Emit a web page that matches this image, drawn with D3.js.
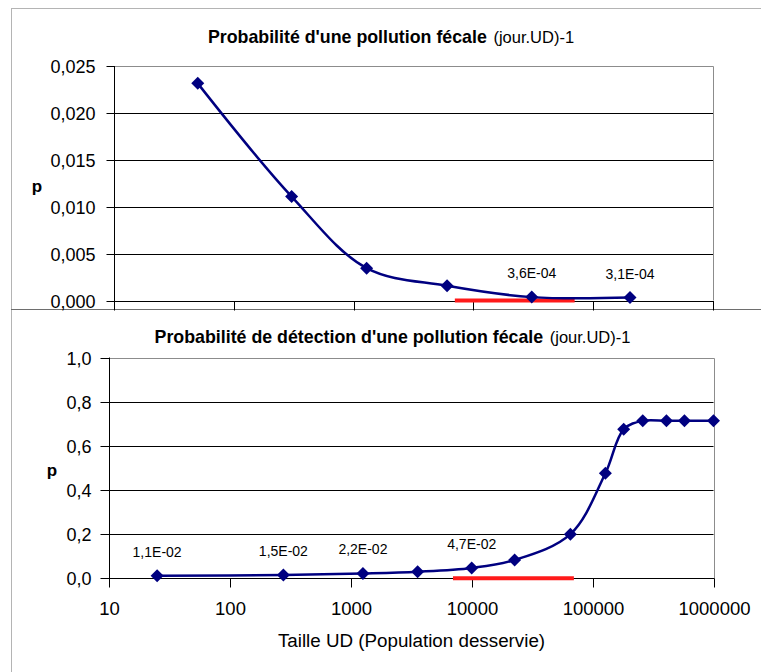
<!DOCTYPE html>
<html>
<head>
<meta charset="utf-8">
<title>probabilites</title>
<script src="https://d3js.org/d3.v7.min.js"></script>
<style>
  body { margin: 0; background: #fff; }
  text { font-family: "Liberation Sans", Arial, sans-serif; }
</style>
</head>
<body>
<script>
// data
var xTicks = [10, 100, 1000, 10000, 100000, 1000000];

var topSize = [50, 304, 1285, 6025, 30700, 202800];
var topP = [0.02315, 0.01108, 0.00345, 0.00157, 0.00036, 0.00031];
var topLabels = ["", "", "", "", "3,6E-04", "3,1E-04"];
var topTicks = [0, 0.005, 0.010, 0.015, 0.020, 0.025];

var botSize = [25, 277, 1260, 3570, 10000, 22650, 65500, 127600, 180800, 260000, 408000, 575000, 1000000];
var botP = [0.011, 0.015, 0.022, 0.030, 0.047, 0.083, 0.200, 0.476, 0.675, 0.713, 0.713, 0.713, 0.713];
var botLabels = ["1,1E-02", "1,5E-02", "2,2E-02", "", "4,7E-02", "", "", "", "", "", "", "", ""];
var botTicks = [0, 0.2, 0.4, 0.6, 0.8, 1.0];

var redRange = [7000, 70000];

var width = 761, height = 672;
var navy = "#000080";

var svg = d3.select("body").append("svg")
    .attr("width", width)
    .attr("height", height);

// chart frames
svg.append("rect")
    .attr("x", 11.5).attr("y", 8.5)
    .attr("width", 800).attr("height", 301)
    .attr("fill", "#fff").attr("stroke", "#b4b4b4");
svg.append("rect")
    .attr("x", 11.5).attr("y", 309.5)
    .attr("width", 800).attr("height", 420)
    .attr("fill", "#fff").attr("stroke", "#b4b4b4");
svg.append("line")
    .attr("x1", 11).attr("x2", width)
    .attr("y1", 309.5).attr("y2", 309.5)
    .attr("stroke", "#6e6e6e");

var diamond = "M0,-6.5L6.5,0L0,6.5L-6.5,0Z";
var comma = function(f){ return function(d){ return d3.format(f)(d).replace(".", ","); }; };

drawPanel({
    left: 114, right: 713, top: 66, bottom: 300.5,
    size: topSize, p: topP, labels: topLabels,
    ticks: topTicks, fmt: comma(".3f"),
    showX: false, ytick: 8, ypad: 11,
    title: "Probabilité d'une pollution fécale", titleX: 391, titleY: 43,
    pX: 37, pY: 192
});

drawPanel({
    left: 109, right: 713.5, top: 357.5, bottom: 578.3,
    size: botSize, p: botP, labels: botLabels,
    ticks: botTicks, fmt: comma(".1f"),
    showX: true, ytick: 9, ypad: 9,
    title: "Probabilité de détection d'une pollution fécale", titleX: 392.5, titleY: 343,
    pX: 52, pY: 476
});

// x axis title
svg.append("text")
    .attr("x", 411.5).attr("y", 647)
    .attr("text-anchor", "middle")
    .attr("font-size", 18.8)
    .attr("fill", "#000")
    .text("Taille UD (Population desservie)");

function drawPanel(c){
    var x = d3.scaleLog().domain([10, 1000000]).range([c.left, c.right]);
    var y = d3.scaleLinear().domain([0, d3.max(c.ticks)]).range([c.bottom, c.top]);
    var g = svg.append("g");

    // gridlines
    g.append("g").selectAll("line")
        .data(c.ticks.slice(1, -1))
        .enter().append("line")
        .attr("x1", c.left).attr("x2", c.right)
        .attr("y1", function(d){ return Math.round(y(d)) + 0.5; })
        .attr("y2", function(d){ return Math.round(y(d)) + 0.5; })
        .attr("stroke", "#000");

    // plot area border (top, right)
    g.append("path")
        .attr("d", "M" + c.left + "," + (Math.round(c.top) + 0.5) + "H" + (Math.round(c.right) + 0.5) + "V" + c.bottom)
        .attr("fill", "none")
        .attr("stroke", "#8c8c8c");

    // y axis
    var ya = g.append("g")
        .attr("transform", "translate(" + (Math.round(c.left) + 0.5) + ",0)")
        .call(d3.axisLeft(y).tickValues(c.ticks).tickSize(c.ytick).tickPadding(c.ypad).tickFormat(c.fmt));
    ya.select(".domain").remove();
    ya.selectAll("line").attr("stroke", "#000");
    ya.selectAll(".tick").attr("transform", function(d){ return "translate(0," + (Math.round(y(d)) + 0.5) + ")"; });
    ya.selectAll("text")
        .attr("font-size", 18)
        .attr("font-family", "Liberation Sans, Arial, sans-serif")
        .attr("fill", "#000")
        .attr("dy", "0.36em");
    g.append("line")
        .attr("x1", Math.round(c.left) + 0.5).attr("x2", Math.round(c.left) + 0.5)
        .attr("y1", c.top).attr("y2", c.bottom + (c.showX ? 0 : 9))
        .attr("stroke", "#000");

    // x axis
    var xa = g.append("g")
        .attr("transform", "translate(0," + (Math.round(c.bottom) + 0.5) + ")")
        .call(d3.axisBottom(x).tickValues(xTicks).tickSize(9).tickPadding(14)
            .tickFormat(c.showX ? d3.format("d") : ""));
    xa.select(".domain").remove();
    xa.selectAll(".tick").attr("transform", function(d){ return "translate(" + (Math.round(x(d)) + 0.5) + ",0)"; });
    xa.selectAll("line").attr("stroke", "#000");
    xa.selectAll("text")
        .attr("font-size", 18.5)
        .attr("font-family", "Liberation Sans, Arial, sans-serif")
        .attr("fill", "#000");
    g.append("line")
        .attr("x1", c.left).attr("x2", c.right + 1)
        .attr("y1", Math.round(c.bottom) + 0.5).attr("y2", Math.round(c.bottom) + 0.5)
        .attr("stroke", "#000");

    // red range
    g.append("line")
        .attr("x1", x(redRange[0])).attr("x2", x(redRange[1]))
        .attr("y1", y(0)).attr("y2", y(0))
        .attr("stroke", "#ff1a1a")
        .attr("stroke-width", 4);

    // smoothed series line
    var pts = c.size.map(function(s, i){ return [x(s), y(c.p[i])]; });
    g.append("path")
        .attr("d", d3.line().curve(d3.curveCatmullRom.alpha(0.5))(pts))
        .attr("fill", "none")
        .attr("stroke", navy)
        .attr("stroke-width", 2.5);

    g.append("g").selectAll("path")
        .data(pts)
        .enter().append("path")
        .attr("transform", function(d){ return "translate(" + d[0] + "," + d[1] + ")"; })
        .attr("d", diamond)
        .attr("fill", navy);

    // data labels
    g.append("g").selectAll("text")
        .data(pts.filter(function(d, i){ return c.labels[i]; }))
        .enter().append("text")
        .attr("x", function(d){ return d[0]; })
        .attr("y", function(d){ return d[1] - 19; })
        .attr("text-anchor", "middle")
        .attr("font-size", 14)
        .attr("fill", "#000")
        .text(function(d){ return c.labels[pts.indexOf(d)]; });

    // title
    var t = svg.append("text")
        .attr("x", c.titleX).attr("y", c.titleY)
        .attr("text-anchor", "middle")
        .attr("fill", "#000");
    t.append("tspan").attr("font-size", 17.8).attr("font-weight", "bold").text(c.title);
    t.append("tspan").attr("font-size", 16.5).attr("dx", 2).text(" (jour.UD)-1");

    // p label
    svg.append("text")
        .attr("x", c.pX).attr("y", c.pY)
        .attr("text-anchor", "middle")
        .attr("font-size", 17)
        .attr("font-weight", "bold")
        .text("p");
}
</script>
</body>
</html>
